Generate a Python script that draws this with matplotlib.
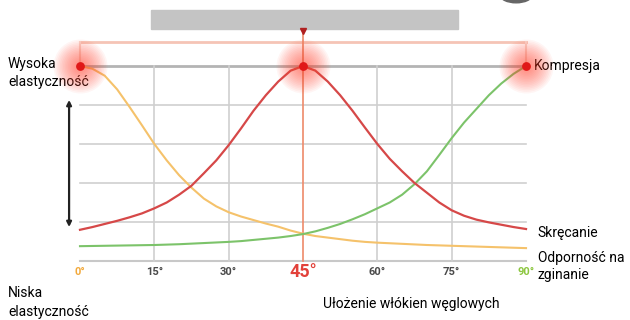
import numpy as np
import matplotlib
matplotlib.use('Agg')
import matplotlib.pyplot as plt
from matplotlib.patches import Rectangle, Ellipse

plt.rcParams['font.family'] = ['Roboto', 'DejaVu Sans']

# kąty ułożenia włókien (stopnie), co 2.5°
katy = [0, 2.5, 5, 7.5, 10, 12.5, 15, 17.5, 20, 22.5, 25, 27.5, 30, 32.5, 35, 37.5,
        40, 42.5, 45, 47.5, 50, 52.5, 55, 57.5, 60, 62.5, 65, 67.5, 70, 72.5, 75,
        77.5, 80, 82.5, 85, 87.5, 90]
# odczytane wartości krzywych (skala 0-5)
skrecanie = [0.8, 0.87, 0.95, 1.03, 1.12, 1.22, 1.35, 1.5, 1.7, 1.93, 2.25, 2.58,
             2.97, 3.4, 3.85, 4.25, 4.6, 4.88, 5.0, 4.88, 4.6, 4.25, 3.85, 3.42,
             3.0, 2.62, 2.3, 2.0, 1.75, 1.5, 1.3, 1.16, 1.06, 0.99, 0.93, 0.87, 0.82]
zginanie = [5.0, 4.93, 4.75, 4.4, 3.95, 3.48, 3.0, 2.58, 2.2, 1.88, 1.6, 1.4,
            1.25, 1.14, 1.05, 0.96, 0.88, 0.78, 0.7, 0.64, 0.6, 0.56, 0.52, 0.49,
            0.47, 0.455, 0.44, 0.425, 0.41, 0.4, 0.39, 0.38, 0.37, 0.36, 0.35, 0.34, 0.33]
kompresja = [0.38, 0.385, 0.39, 0.395, 0.4, 0.405, 0.41, 0.42, 0.43, 0.445, 0.46,
             0.475, 0.49, 0.51, 0.54, 0.57, 0.6, 0.64, 0.69, 0.76, 0.85, 0.95, 1.07,
             1.2, 1.35, 1.5, 1.7, 1.97, 2.3, 2.72, 3.15, 3.55, 3.9, 4.25, 4.55, 4.8, 5.0]

ticki = [0, 15, 30, 45, 60, 75, 90]
tick_etykiety = ['0°', '15°', '30°', '45°', '60°', '75°', '90°']
tick_kolory = ['#f2a93b', '#4a4a4a', '#4a4a4a', '#e2413a', '#4a4a4a', '#4a4a4a', '#8cc63f']
tick_rozmiar = [8, 8, 8, 13, 8, 8, 8]

fig = plt.figure(figsize=(6.3, 3.2), dpi=100)
ax = fig.add_axes([0, 0, 1, 1])
ax.set_xlim(-16.14, 110.98)
ax.set_ylim(-1.513, 6.692)
ax.axis('off')

# siatka
for y in [1, 2, 3, 4]:
    ax.plot([0, 90], [y, y], color='#d0d0d0', lw=1.2, zorder=1)
ax.plot([0, 90], [0, 0], color='#c8c8c8', lw=1.5, zorder=1)
ax.plot([0, 90], [5, 5], color='#b4b4b4', lw=2, zorder=1)
for x in [15, 30, 60, 75]:
    ax.plot([x, x], [0, 5], color='#cfcfcf', lw=1.2, zorder=1)

# szary pasek u góry i różowa linia
ax.add_patch(Rectangle((14.3, 5.95), 62.0, 0.49, color='#c4c4c4', zorder=1))
ax.plot([0, 90], [5.615, 5.615], color='#f5c4b6', lw=2, zorder=1)
ax.plot([0, 0], [5.0, 5.615], color='#f8d8cf', lw=1.5, zorder=1)
ax.plot([90, 90], [5.0, 5.615], color='#f8d8cf', lw=1.5, zorder=1)
ax.add_patch(Ellipse((88.0, 6.82), 6.5, 0.4, color='#666666', zorder=1))

# linia 45°
ax.plot([45, 45], [0, 5.9], color='#ee8a6a', lw=1.2, zorder=2)
ax.plot([45], [5.9], marker='v', color='#b02020', markersize=5, zorder=3)

# krzywe
ax.plot(katy, zginanie, color='#f5c26b', lw=1.5, zorder=3)
ax.plot(katy, kompresja, color='#7cc36a', lw=1.5, zorder=3)
ax.plot(katy, skrecanie, color='#d64848', lw=1.6, zorder=4)

# świecące punkty
for px in [0, 45, 90]:
    for r in np.linspace(27, 3, 16):
        ax.scatter(px, 5, s=(2 * r / 1.389) ** 2, color='#ff4530', alpha=0.05,
                   linewidths=0, zorder=5)
    ax.scatter(px, 5, s=40, color='#e01818', linewidths=0, zorder=6)

# strzałka
ax.annotate('', xy=(-2.2, 0.87), xytext=(-2.2, 4.13),
            arrowprops=dict(arrowstyle='<|-|>', color='#222222', lw=1.6,
                            mutation_scale=7, shrinkA=0, shrinkB=0))

# etykiety osi x
for t, lab, c, s in zip(ticki, tick_etykiety, tick_kolory, tick_rozmiar):
    ax.text(t, -0.28, lab, color=c, fontsize=s, fontweight='bold',
            ha='center', va='center')

# opisy
fs = 10
ax.text(-14.53, 4.82, 'Wysoka\nelastyczność', fontsize=fs, ha='left', va='center',
        linespacing=1.45)
ax.text(-14.53, -1.06, 'Niska\nelastyczność', fontsize=fs, ha='left', va='center',
        linespacing=1.45)
ax.text(91.6, 5.0, 'Kompresja', fontsize=fs, ha='left', va='center')
ax.text(92.4, 0.72, 'Skręcanie', fontsize=fs, ha='left', va='center')
ax.text(92.4, -0.15, 'Odporność na\nzginanie', fontsize=fs, ha='left', va='center',
        linespacing=1.3)
ax.text(49.0, -1.10, 'Ułożenie włókien węglowych', fontsize=fs, ha='left', va='center')

fig.savefig('out.png', dpi=100)
